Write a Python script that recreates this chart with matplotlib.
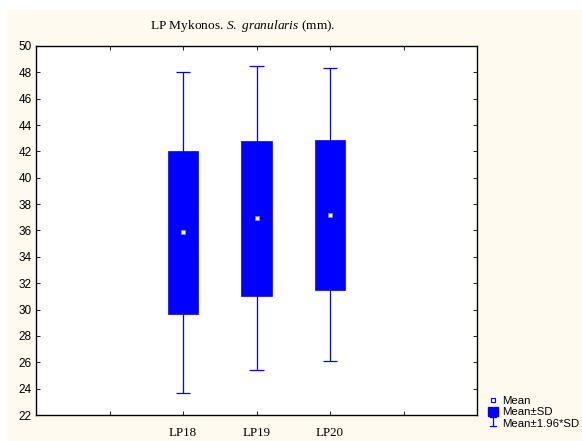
#!/usr/bin/env python3

import numpy as np
import matplotlib
matplotlib.use("Agg")
import matplotlib.pyplot as plt
from matplotlib.patches import Rectangle, Patch
from matplotlib.lines import Line2D
from matplotlib.legend_handler import HandlerBase


# Daten
groups = ["LP18", "LP19", "LP20"]
means = [35.85, 36.93, 37.18]
sds = [6.20, 5.88, 5.67]
k_sd = 1.96

yticks = list(range(22, 51, 2))

blue = "#0000FF"
cream = "#FFFAF0"

plt.rcParams["mathtext.fontset"] = "custom"
plt.rcParams["mathtext.rm"] = "Liberation Serif"
plt.rcParams["mathtext.it"] = "Liberation Serif:italic"


class WhiskerHandler(HandlerBase):
    # zeichnet ein "I" als Legendensymbol fuer Mean±1.96*SD
    def create_artists(self, legend, orig_handle, xd, yd, w, h, fontsize, trans):
        cx = xd + w / 2.0
        c = w * 0.3
        kw = dict(color=blue, lw=0.9, transform=trans)
        return [Line2D([cx, cx], [yd, yd + h], **kw),
                Line2D([cx - c, cx + c], [yd + h, yd + h], **kw),
                Line2D([cx - c, cx + c], [yd, yd], **kw)]


fig = plt.figure(figsize=(5.82, 4.41), dpi=100, facecolor="white")
fig.add_artist(Rectangle((7 / 582, 0), 1 - 7 / 582, (441 - 10) / 441,
                         transform=fig.transFigure, facecolor=cream,
                         edgecolor="none", zorder=-10))

ax = fig.add_axes([36 / 582, (441 - 415) / 441, (477 - 36) / 582, (415 - 46) / 441])
ax.set_facecolor("white")

pos = np.arange(len(groups)) + 2
box_w = 0.42
cap_w = 0.2

for x, m, s in zip(pos, means, sds):
    lo, hi = m - k_sd * s, m + k_sd * s
    ax.vlines(x, lo, hi, color=blue, lw=0.9, zorder=2)
    ax.hlines([lo, hi], x - cap_w / 2, x + cap_w / 2, color=blue, lw=0.9, zorder=2)
    ax.add_patch(Rectangle((x - box_w / 2, m - s), box_w, 2 * s,
                           facecolor=blue, edgecolor=blue, lw=0.5, zorder=3))
    ax.plot(x, m, marker="s", ms=2.8, mfc="white", mec="#8080FF", mew=0.6, zorder=4)

ax.set_xlim(0, 6)
ax.set_ylim(22, 50)
ax.set_yticks(yticks)
ax.set_xticks([1, 2, 3, 4, 5])
ax.set_xticklabels(["", *groups, ""], family="Liberation Serif", fontsize=9.3)
ax.set_yticklabels([str(v) for v in yticks], family="Liberation Sans", fontsize=8.5)
ax.tick_params(direction="in", length=3, width=0.6, top=True, right=True, pad=3)
ax.tick_params(axis="x", pad=9)
for sp in ax.spines.values():
    sp.set_linewidth(1.0)

fig.text(243 / 582, (441 - 26) / 441, r"LP Mykonos. $S.\ granularis$ (mm).",
         ha="center", va="center", family="Liberation Serif", fontsize=9.6)

# Legende
handles = [
    Line2D([], [], ls="none", marker="s", ms=3.5, mfc="white", mec=blue, mew=0.8),
    Patch(facecolor=blue, edgecolor=blue),
    Line2D([], [], color=blue),
]
fig.legend(handles, ["Mean", "Mean±SD", "Mean±1.96*SD"], loc="lower left",
           bbox_to_anchor=(480 / 582, 4 / 441), frameon=False,
           prop={"family": "Liberation Sans", "size": 8.2},
           handlelength=0.9, handleheight=0.85, handletextpad=0.35,
           labelspacing=0.1, borderpad=0.2,
           handler_map={handles[2]: WhiskerHandler()})

fig.savefig("out.png", dpi=100, facecolor=fig.get_facecolor())
